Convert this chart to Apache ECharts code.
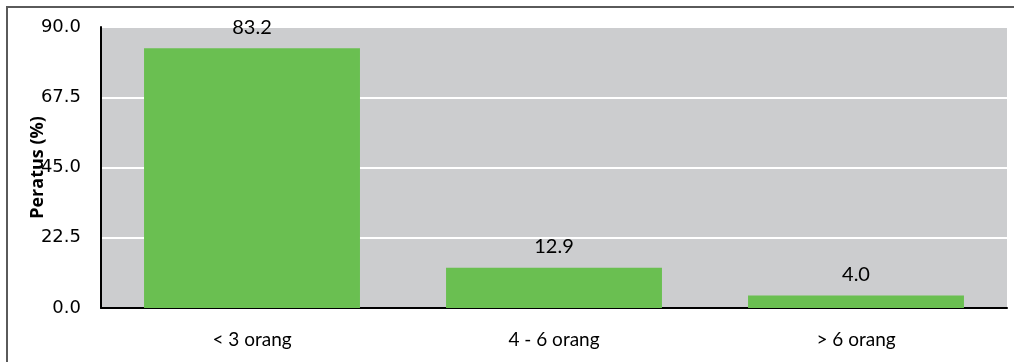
<!DOCTYPE html>
<html>
<head>
<meta charset="utf-8">
<script src="https://cdn.jsdelivr.net/npm/echarts@6/dist/echarts.min.js"></script>
<style>
  html, body { margin: 0; padding: 0; background: #fff; }
  #chart { width: 1014px; height: 362px; }
  .frame {
    position: absolute; left: 6px; top: 6px; right: 0; bottom: 0;
    border-left: 2px solid #5a5a5a; border-top: 2px solid #5a5a5a;
    pointer-events: none;
  }
</style>
</head>
<body>
<div id="chart"></div>
<div class="frame"></div>
<script>
// data
const categories = ["< 3 orang", "4 - 6 orang", "> 6 orang"];
const values = [83.2, 12.9, 4.0];
const yTicks = { min: 0, max: 90, interval: 22.5 };

const myChart = echarts.init(document.getElementById("chart"));
const option = {
  animation: false,
  grid: {
    left: 101,
    right: 7,
    top: 27,
    bottom: 54,
    show: true,
    backgroundColor: "#cccdcf",
    borderWidth: 0,
  },
  xAxis: {
    type: "category",
    data: categories,
    axisLine: { lineStyle: { color: "#000", width: 2 } },
    axisTick: { show: false },
    axisLabel: {
      color: "#000",
      fontSize: 19,
      fontFamily: "Lato",
      margin: 22,
    },
  },
  yAxis: {
    type: "value",
    min: yTicks.min,
    max: yTicks.max,
    interval: yTicks.interval,
    name: "Peratus (%)",
    nameLocation: "middle",
    nameGap: 54,
    nameMoveOverlap: false,
    nameTextStyle: {
      color: "#000",
      fontSize: 18,
      fontWeight: "bold",
      fontFamily: "Open Sans",
    },
    axisLine: { show: true, lineStyle: { color: "#000", width: 2 } },
    axisTick: { show: false },
    splitLine: { lineStyle: { color: "#fff", width: 2 } },
    axisLabel: {
      color: "#000",
      fontSize: 18,
      fontFamily: "DejaVu Sans",
      margin: 20,
      formatter: (v) => v.toFixed(1),
    },
  },
  series: [
    {
      type: "bar",
      data: values,
      barWidth: "71.5%",
      itemStyle: { color: "#6abf51" },
      label: {
        show: true,
        position: "top",
        distance: 11,
        color: "#000",
        fontSize: 20,
        fontFamily: "Lato",
        formatter: (p) => p.value.toFixed(1),
      },
    },
  ],
};
myChart.setOption(option, true);
</script>
</body>
</html>
